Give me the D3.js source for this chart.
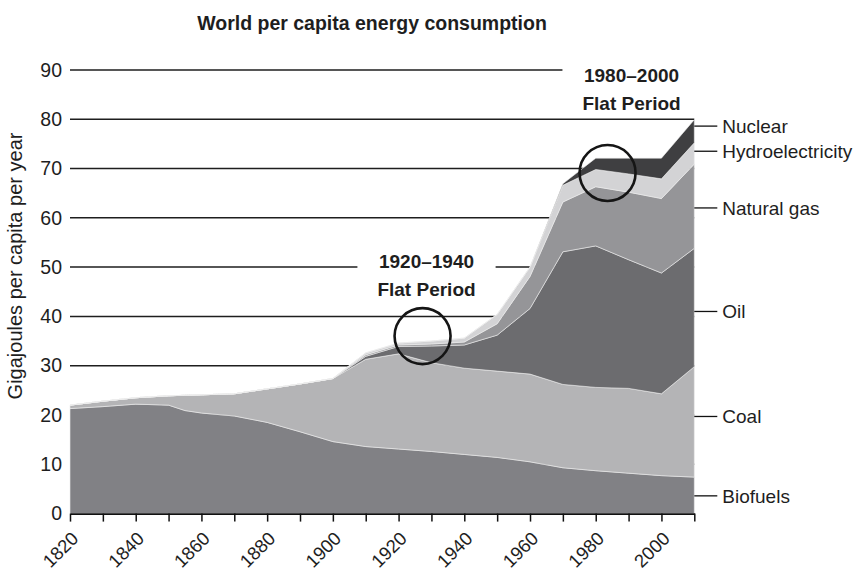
<!DOCTYPE html>
<html>
<head>
<meta charset="utf-8">
<script src="https://cdn.jsdelivr.net/npm/d3@7"></script>
<style>
  body { margin: 0; background: #fff; }
  svg { display: block; font-family: "Liberation Sans", Arial, sans-serif; }
</style>
</head>
<body>
<svg width="864" height="577"></svg>
<script>
  // Years sampled in the chart
  const years = [1820, 1830, 1840, 1850, 1855, 1860, 1870, 1880, 1890, 1900, 1910,
                 1920, 1930, 1940, 1950, 1960, 1970, 1980, 1990, 2000, 2010];

  // Per capita consumption by source (GJ per capita per year)
  const biofuels   = [21.3, 21.7, 22.2, 22.0, 20.9, 20.4, 19.8, 18.5, 16.6, 14.6, 13.6,
                      13.1, 12.6, 12.0, 11.4, 10.5, 9.3, 8.7, 8.2, 7.7, 7.4];
  const coal       = [0.7, 1.1, 1.3, 1.9, 3.1, 3.7, 4.5, 6.8, 9.7, 12.8, 17.7,
                      19.3, 18.0, 17.5, 17.5, 17.8, 16.9, 16.9, 17.2, 16.6, 22.4];
  const oil        = [0, 0, 0, 0, 0, 0, 0, 0, 0, 0, 0.6,
                      1.5, 3.4, 4.7, 7.3, 13.3, 26.9, 28.7, 26.1, 24.5, 24.0];
  const naturalGas = [0, 0, 0, 0, 0, 0, 0, 0, 0, 0, 0.3,
                      0.3, 0.4, 0.6, 2.3, 6.5, 10.1, 12.0, 13.7, 15.1, 17.1];
  const hydro      = [0, 0, 0, 0, 0, 0, 0, 0, 0, 0, 0.4,
                      0.4, 0.6, 0.8, 1.9, 1.9, 3.4, 3.5, 3.7, 4.0, 4.3];
  const nuclear    = [0, 0, 0, 0, 0, 0, 0, 0, 0, 0, 0,
                      0, 0, 0, 0, 0, 0.3, 2.3, 3.2, 4.2, 4.7];

  const seriesNames = ["Biofuels", "Coal", "Oil", "Natural gas", "Hydroelectricity", "Nuclear"];
  const seriesValues = [biofuels, coal, oil, naturalGas, hydro, nuclear];
  // value on the y axis where each right-hand label sits
  const labelAt = [3.6, 19.7, 41.0, 62.0, 73.5, 78.6];

  const yTicks = [0, 10, 20, 30, 40, 50, 60, 70, 80, 90];
  const xTicks = d3.range(1820, 2011, 10);
  const xLabels = [1820, 1840, 1860, 1880, 1900, 1920, 1940, 1960, 1980, 2000];

  // the two "flat period" call-outs: circle centre and text anchor as [year, GJ]
  const flatPeriods = [
    {span: "1920\u20131940", circle: [1927.3, 36.0], text: [1928.5, 49.8]},
    {span: "1980\u20132000", circle: [1983.6, 69.1], text: [1990.9, 87.6]}
  ];

  const colors = ["#818185", "#b4b4b6", "#6c6c6f", "#959598", "#d3d3d5", "#3f3f41"];

  // Build the table d3.stack wants
  const table = years.map((yr, i) => {
    const row = {year: yr};
    seriesNames.forEach((k, j) => row[k] = seriesValues[j][i]);
    return row;
  });

  const width = 864, height = 577;
  const x = d3.scaleLinear().domain([1820, 2010]).range([70, 694.3]);
  const y = d3.scaleLinear().domain([0, 90]).range([513.6, 69.9]);

  const svg = d3.select("svg");

  // Title
  svg.append("text")
      .attr("x", 372).attr("y", 30)
      .attr("text-anchor", "middle")
      .style("font-weight", "bold").style("font-size", "19.5px")
      .attr("fill", "#1e1e1e")
      .text("World per capita energy consumption");

  // Grid lines (behind the areas)
  svg.append("g")
    .selectAll("line")
    .data(yTicks.filter(d => d > 0))
    .join("line")
      .attr("x1", x(1820)).attr("x2", x(2010))
      .attr("y1", d => y(d)).attr("y2", d => y(d))
      .attr("stroke", "#1e1e1e").attr("stroke-width", 1.5);

  // Stacked areas
  const stacked = d3.stack().keys(seriesNames)(table);
  const area = d3.area()
      .x(d => x(d.data.year))
      .y0(d => y(d[0]))
      .y1(d => y(d[1]));

  svg.append("g")
    .selectAll("path")
    .data(stacked)
    .join("path")
      .attr("fill", (d, i) => colors[i])
      .attr("stroke", "#ececec").attr("stroke-width", 0.6)
      .attr("d", area);

  // X axis
  const xAxis = svg.append("g")
      .attr("transform", `translate(0,${y(0)})`)
      .call(d3.axisBottom(x)
        .tickValues(xTicks)
        .tickSize(8)
        .tickSizeOuter(0)
        .tickFormat(d => xLabels.includes(d) ? d : ""));
  xAxis.select(".domain").attr("stroke", "#111").attr("stroke-width", 1.6);
  xAxis.selectAll(".tick line").attr("stroke", "#111").attr("stroke-width", 1.5);
  xAxis.selectAll(".tick text")
      .attr("x", 0).attr("y", 0).attr("dy", 0)
      .attr("transform", "translate(9,26) rotate(-45)")
      .attr("text-anchor", "end")
      .attr("fill", "#1e1e1e")
      .style("font-size", "18.5px")
      .style("font-family", "Liberation Sans, Arial, sans-serif");

  // Y axis labels (no axis line)
  const yAxis = svg.append("g")
      .attr("transform", `translate(${x(1820)},0)`)
      .call(d3.axisLeft(y).tickValues(yTicks).tickSize(0).tickPadding(8));
  yAxis.select(".domain").remove();
  yAxis.selectAll(".tick text")
      .attr("fill", "#1e1e1e")
      .style("font-size", "19.5px")
      .style("font-family", "Liberation Sans, Arial, sans-serif");

  svg.append("text")
      .attr("transform", "translate(22,266) rotate(-90)")
      .attr("text-anchor", "middle")
      .style("font-size", "20px")
      .attr("fill", "#1e1e1e")
      .text("Gigajoules per capita per year");

  // Series labels on the right
  const right = svg.append("g");
  right.selectAll("line")
    .data(labelAt)
    .join("line")
      .attr("x1", x(2010)).attr("x2", x(2010) + 23)
      .attr("y1", d => y(d)).attr("y2", d => y(d))
      .attr("stroke", "#111").attr("stroke-width", 1.3);
  right.selectAll("text")
    .data(seriesNames)
    .join("text")
      .attr("x", x(2010) + 28)
      .attr("y", (d, i) => y(labelAt[i]))
      .attr("dy", "0.35em")
      .style("font-size", "19px")
      .attr("fill", "#1e1e1e")
      .text(d => d);

  // Flat period call-outs
  flatPeriods.forEach(p => {
    const g = svg.append("g");
    const tx = x(p.text[0]), ty = y(p.text[1]);
    const t = g.append("text")
        .attr("x", tx).attr("y", ty)
        .attr("text-anchor", "middle")
        .style("font-weight", "bold").style("font-size", "19px")
        .attr("fill", "#1e1e1e");
    t.append("tspan").attr("x", tx).text(p.span);
    t.append("tspan").attr("x", tx).attr("dy", 28).text("Flat Period");
    const bb = t.node().getBBox();
    g.insert("rect", "text")
        .attr("x", bb.x - 20).attr("y", bb.y - 6)
        .attr("width", bb.width + 40).attr("height", bb.height + 10)
        .attr("fill", "#fff");

    svg.append("circle")
        .attr("cx", x(p.circle[0])).attr("cy", y(p.circle[1]))
        .attr("r", 28)
        .attr("fill", "none")
        .attr("stroke", "#151515").attr("stroke-width", 2.6);
  });
</script>
</body>
</html>
